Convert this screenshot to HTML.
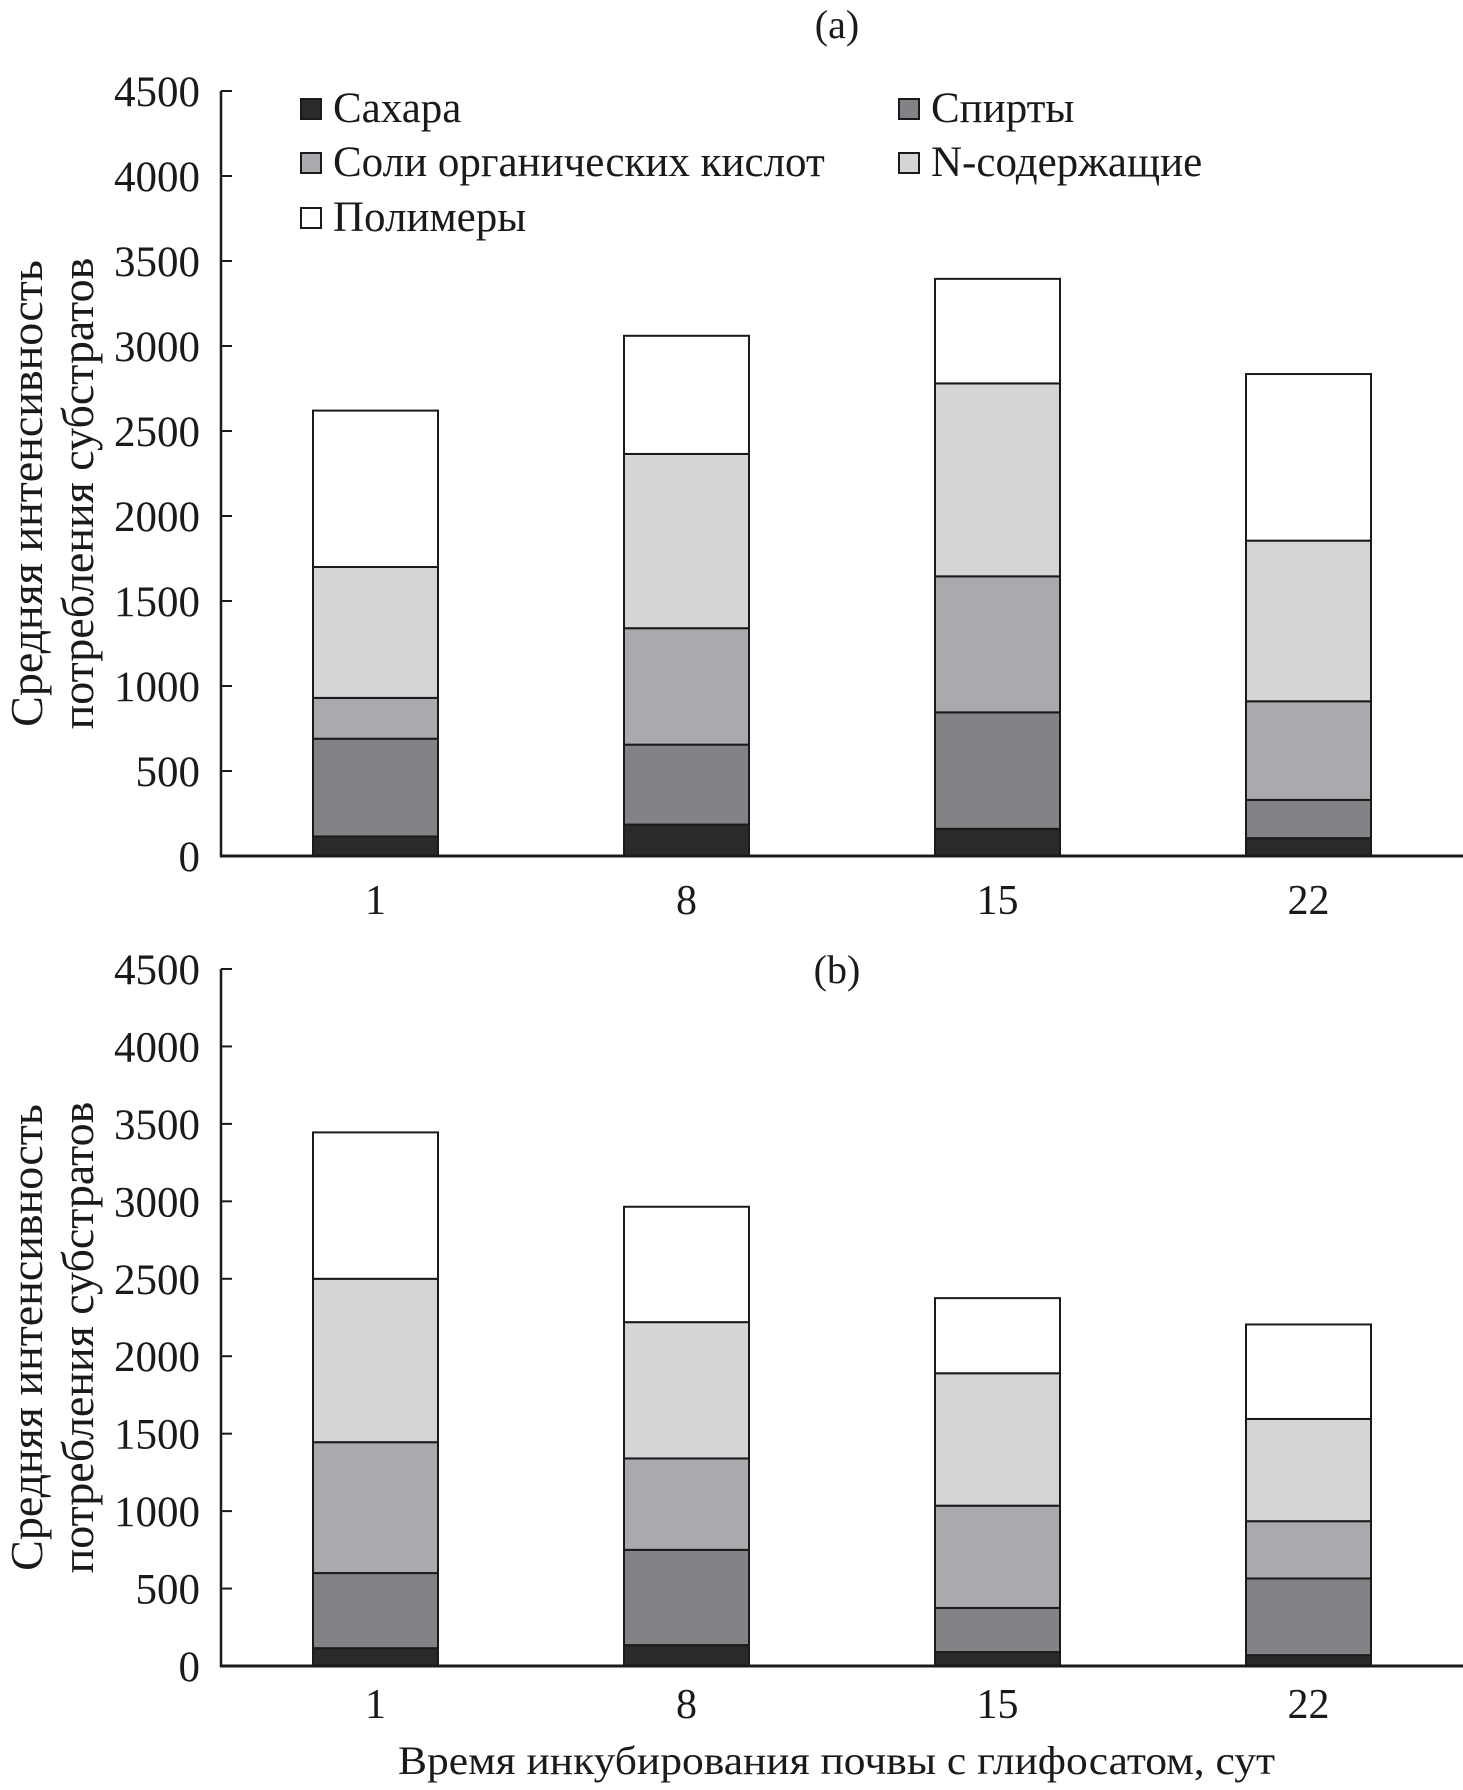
<!DOCTYPE html>
<html><head><meta charset="utf-8"><style>
html,body{margin:0;padding:0;background:#fff;}
svg{display:block;font-family:"Liberation Serif","Noto Serif CJK SC",serif;}
</style></head>
<body>
<svg id="chart" width="1463" height="1790" viewBox="0 0 1463 1790"></svg>
<script>
const categories = ["1","8","15","22"];
const seriesNames = ["Сахара","Спирты","Соли органических кислот","N-содержащие","Полимеры"];
const yTicks = [0,500,1000,1500,2000,2500,3000,3500,4000,4500];
// Panel (a) segment values
const aSugar = [115,185,160,105];
const aAlcohol = [575,470,685,225];
const aSalts = [240,685,800,580];
const aNitrogen = [770,1025,1135,945];
const aPolymers = [920,695,615,980];
// Panel (b) segment values
const bSugar = [115,135,90,70];
const bAlcohol = [485,615,285,495];
const bSalts = [845,590,660,370];
const bNitrogen = [1055,880,855,660];
const bPolymers = [945,745,485,610];

const colors = ["#2a2a2a","#828386","#a9aaad","#d4d5d7","#ffffff"];
const NS = "http://www.w3.org/2000/svg";
const svg = document.getElementById("chart");
function mk(tag, attrs, parent){const e=document.createElementNS(NS,tag);for(const k in attrs)e.setAttribute(k,attrs[k]);(parent||svg).appendChild(e);return e;}

function panel(id, y0, y4500, series, label, labelY, xLabelY){
  const g = mk("g",{});
  
  
  const yScale = v => y0 - (v/4500)*(y0-y4500);
  const xLeft = i => 313 + i*311;
  const bw = 125;
  categories.forEach((c,i)=>{
    let cum = 0;
    series.forEach((s,k)=>{
      const v = s[i];
      const top = yScale(cum+v), bot = yScale(cum);
      const r = mk("rect",{x:xLeft(i),y:top,width:bw,height:bot-top,fill:colors[k],stroke:"#1a1a1a","stroke-width":2},g);
      
      
      cum += v;
    });
  });
  const ya = mk("line",{x1:221,y1:y4500,x2:221,y2:y0+1,stroke:"#1a1a1a","stroke-width":2.5},g);
  
  
  const xa = mk("line",{x1:220,y1:y0,x2:1463,y2:y0,stroke:"#1a1a1a","stroke-width":3},g);
  
  
  yTicks.forEach(t=>{
    const y = yScale(t);
    if(t>0){
      const tk = mk("line",{x1:221,y1:y,x2:232,y2:y,stroke:"#1a1a1a","stroke-width":2},g);
      
      
    }
    const tx = mk("text",{x:200,y:y+15,"text-anchor":"end","font-size":43,fill:"#1a1a1a"},g);
    tx.textContent = t;
    
    
  });
  categories.forEach((c,i)=>{
    const tx = mk("text",{x:xLeft(i)+bw/2,y:xLabelY,"text-anchor":"middle","font-size":42,fill:"#1a1a1a"},g);
    tx.textContent = c;
    
    
  });
  const pl = mk("text",{x:837,y:labelY,"text-anchor":"middle","font-size":40,fill:"#1a1a1a"},g);
  pl.textContent = label;
  
  
  const cy = (y0+y4500)/2 + 20;
  const t1 = mk("text",{x:0,y:0,"text-anchor":"middle","font-size":46,fill:"#1a1a1a",transform:`translate(42,${cy}) rotate(-90)`},g);
  t1.textContent = "Средняя интенсивность";
  
  
  const t2 = mk("text",{x:0,y:0,"text-anchor":"middle","font-size":46,fill:"#1a1a1a",transform:`translate(93,${cy}) rotate(-90)`},g);
  t2.textContent = "потребления субстратов";
  
  
}

panel("a", 856, 91, [aSugar,aAlcohol,aSalts,aNitrogen,aPolymers], "(a)", 38, 914);
panel("b", 1666, 969, [bSugar,bAlcohol,bSalts,bNitrogen,bPolymers], "(b)", 983, 1718);

const legPos = [[301,122],[899,122],[301,176],[899,176],[301,231]];
const lg = mk("g",{});


seriesNames.forEach((n,k)=>{
  const [x,y] = legPos[k];
  const sq = mk("rect",{x:x,y:y-23,width:20,height:20,fill:colors[k],stroke:"#1a1a1a","stroke-width":2},lg);
  
  
  const tx = mk("text",{x:x+32,y:y,"font-size":43,fill:"#1a1a1a"},lg);
  tx.textContent = n;
  
  
});

const xt = mk("text",{x:398,y:1774,"font-size":40,fill:"#1a1a1a",textLength:877,lengthAdjust:"spacingAndGlyphs"});
xt.textContent = "Время инкубирования почвы с глифосатом, сут";


</script>
</body></html>
